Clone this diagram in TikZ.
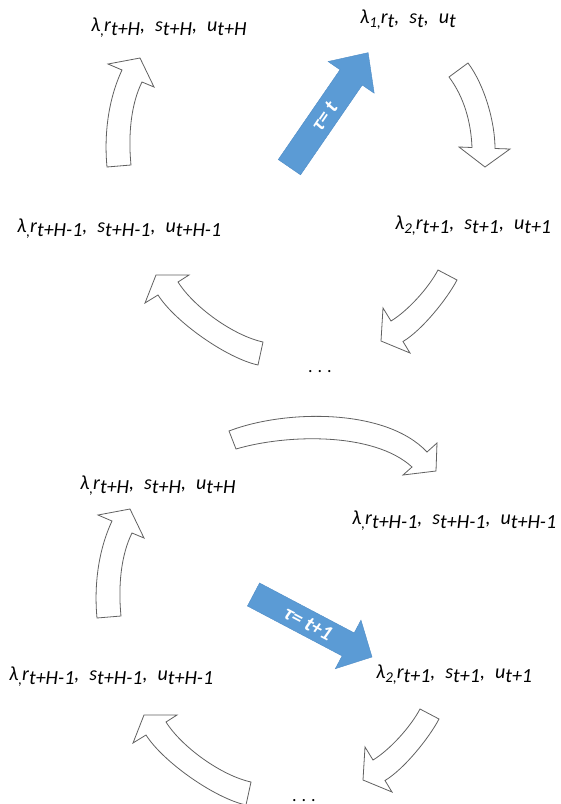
\documentclass[tikz,border=0pt]{standalone}
\usepackage{fontspec}
\setmainfont{Carlito}
\definecolor{bluefill}{HTML}{5B9BD5}
\definecolor{blueline}{HTML}{4F8CC6}
\newcommand{\sbx}[1]{\raisebox{-4.5pt}{#1}}
\newcommand{\sbs}[1]{\raisebox{-4.5pt}{\fontsize{15}{15}\selectfont #1}}
\newcommand{\labtext}[2]{λ\sbs{#1}r\sbx{#2},\hspace{10pt}s\sbx{#2},\hspace{10pt}u\sbx{#2}}
\tikzset{
  lab/.style={anchor=base west, inner sep=0pt, font=\fontsize{20}{23}\selectfont\itshape},
  warrow/.style={draw=black!62, line width=0.8pt, fill=white, line join=miter},
  barrow/.style={fill=bluefill, draw=blueline, line width=0.4pt},
  btext/.style={text=white, font=\fontsize{21}{24}\selectfont\bfseries\itshape, inner sep=0pt, transform shape},
  dotsnode/.style={anchor=base, inner sep=0pt, font=\fontsize{18}{20}\selectfont}
}
\begin{document}
\begin{tikzpicture}[x=1pt,y=-1pt]
\useasboundingbox (0,0) rectangle (561,804);
% ---------- labels ----------
\node[lab] (l1) at (91,31) {\labtext{,}{t+H}};
\node[lab] (l2) at (360,23) {\labtext{1,}{t}};
\node[lab] (l3) at (17,232) {\labtext{,}{t+H-1}};
\node[lab] (l4) at (395,229) {\labtext{2,}{t+1}};
\node[dotsnode] (d1) at (320,372) {.\hspace{5pt}.\hspace{5pt}.};
\node[lab] (l5) at (80,489) {\labtext{,}{t+H}};
\node[lab] (l6) at (352,524) {\labtext{,}{t+H-1}};
\node[lab] (l7) at (9,680) {\labtext{,}{t+H-1}};
\node[lab] (l8) at (376,678) {\labtext{2,}{t+1}};
\node[dotsnode] (d2) at (304,801) {.\hspace{5pt}.\hspace{5pt}.};
% ---------- white arrows, upper cycle ----------
\path[warrow] (107,167) .. controls (104,135) and (108,100) .. (122,70) -- (108,64) -- (140,58) -- (154,87) -- (142,82) .. controls (131,104) and (128,135) .. (131,165) -- cycle;
\path[warrow] (449,77) .. controls (464,97) and (471,122) .. (472,147.5) -- (459,147) -- (485,167) -- (510,149) -- (495,148.5) .. controls (495,122) and (484.5,85) .. (468,63) -- cycle;
\path[warrow] (438,270) .. controls (428.7,287.7) and (408,310.7) .. (391,321) -- (383,308) -- (381,341) -- (410,353) -- (403,341.5) .. controls (421.9,330.2) and (446.8,299.4) .. (457,280) -- cycle;
\path[warrow] (178,282) .. controls (194,307.3) and (233.6,335.6) .. (263,342) -- (258,365) .. controls (226.7,358.2) and (175.2,322) .. (158,295) -- (145,303) -- (156,275) -- (189,275) -- cycle;
% ---------- transition arrow ----------
\path[warrow] (229,431) .. controls (285,409.4) and (386,408) .. (427,452) -- (437,443) -- (436,471) -- (403,475) -- (412,467) .. controls (374,432) and (287,434) .. (236,449) -- cycle;
% ---------- white arrows, lower cycle ----------
\begin{scope}[shift={(-10,451)}]
\path[warrow] (107,167) .. controls (104,135) and (108,100) .. (122,70) -- (108,64) -- (140,58) -- (154,87) -- (142,82) .. controls (131,104) and (128,135) .. (131,165) -- cycle;
\end{scope}
\begin{scope}[shift={(-18,439)}]
\path[warrow] (438,270) .. controls (428.7,287.7) and (408,310.7) .. (391,321) -- (383,308) -- (381,341) -- (410,353) -- (403,341.5) .. controls (421.9,330.2) and (446.8,299.4) .. (457,280) -- cycle;
\end{scope}
\begin{scope}[shift={(-12,440)}]
\path[warrow] (178,282) .. controls (194,307.3) and (233.6,335.6) .. (263,342) -- (258,365) .. controls (226.7,358.2) and (175.2,322) .. (158,295) -- (145,303) -- (156,275) -- (189,275) -- cycle;
\end{scope}
% ---------- blue arrows ----------
\begin{scope}[shift={(289.4,167.2)}, rotate=55.5]
\path[barrow] (0,-13.5) -- (109,-13.5) -- (109,-28) -- (139,0) -- (109,28) -- (109,13.5) -- (0,13.5) -- cycle;
\node[btext] (b1) at (62,0) {τ= t};
\end{scope}
\begin{scope}[shift={(253.5,594.5)}, rotate=-27.8]
\path[barrow] (0,-13) -- (107,-13) -- (107,-27.5) -- (134,0) -- (107,27.5) -- (107,13) -- (0,13) -- cycle;
\node[btext] (b2) at (62,0) {τ= t+1};
\end{scope}
\end{tikzpicture}
\end{document}
